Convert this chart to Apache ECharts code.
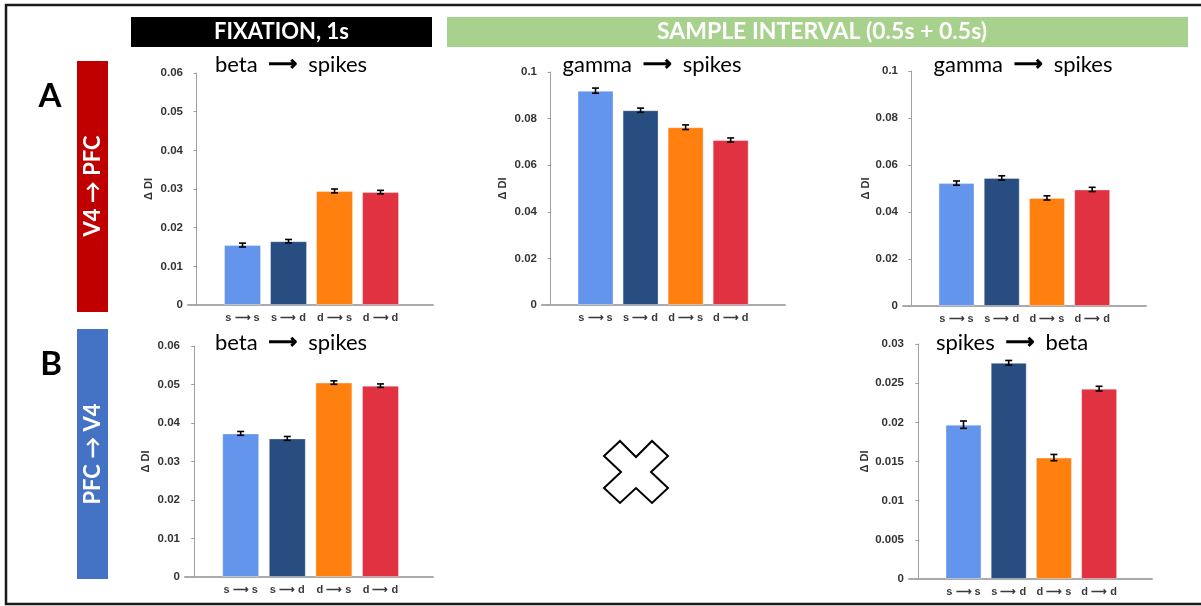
<!DOCTYPE html>
<html>
<head>
<meta charset="utf-8">
<script src="https://cdn.jsdelivr.net/npm/echarts@6/dist/echarts.min.js"></script>
<style>
  html, body { margin: 0; padding: 0; background: #fff; }
  #main { width: 1201px; height: 606px; }
</style>
</head>
<body>
<div id="main"></div>
<script>
// categories and colours of the four bars
const categories = ['s \u27F6 s', 's \u27F6 d', 'd \u27F6 s', 'd \u27F6 d'];
const barColors = ['#6495ED', '#284D80', '#FF7F0F', '#E13242'];

// A: V4 -> PFC
const fixV4PfcBeta = [0.0155, 0.0165, 0.0295, 0.0292];
const fixV4PfcBetaErr = [0.0005, 0.00045, 0.0005, 0.00045];
const sampleV4PfcGamma1 = [0.0920, 0.0836, 0.0763, 0.0708];
const sampleV4PfcGamma1Err = [0.0011, 0.0009, 0.001, 0.0009];
const sampleV4PfcGamma2 = [0.0523, 0.0545, 0.0460, 0.0496];
const sampleV4PfcGamma2Err = [0.0009, 0.0009, 0.0009, 0.0009];

// B: PFC -> V4
const fixPfcV4Beta = [0.0373, 0.0360, 0.0505, 0.0497];
const fixPfcV4BetaErr = [0.0005, 0.0005, 0.00045, 0.00045];
const samplePfcV4Beta = [0.0197, 0.0276, 0.0155, 0.0243];
const samplePfcV4BetaErr = [0.00047, 0.0003, 0.0004, 0.0003];

// panel layout (pixels) + axis ranges
const panels = [
  { grid: { left: 188, top: 73, width: 245, height: 232 }, xMin: -0.185, xMax: 5.14, barW: 37,
    yMax: 0.06, yInt: 0.01, nameGap: 34, values: fixV4PfcBeta, errors: fixV4PfcBetaErr,
    title: ['beta', 'spikes'], tx: 291, ty: 65 },
  { grid: { left: 542, top: 72, width: 243, height: 233 }, xMin: -0.188, xMax: 5.206, barW: 36,
    yMax: 0.1, yInt: 0.02, nameGap: 34, values: sampleV4PfcGamma1, errors: sampleV4PfcGamma1Err,
    title: ['gamma', 'spikes'], tx: 652, ty: 65 },
  { grid: { left: 903, top: 71, width: 243, height: 235 }, xMin: -0.183, xMax: 5.19, barW: 36,
    yMax: 0.1, yInt: 0.02, nameGap: 32, values: sampleV4PfcGamma2, errors: sampleV4PfcGamma2Err,
    title: ['gamma', 'spikes'], tx: 1023, ty: 65 },
  { grid: { left: 185, top: 346, width: 248, height: 231 }, xMin: -0.195, xMax: 5.127, barW: 37,
    yMax: 0.06, yInt: 0.01, nameGap: 34, values: fixPfcV4Beta, errors: fixPfcV4BetaErr,
    title: ['beta', 'spikes'], tx: 291, ty: 343 },
  { grid: { left: 909, top: 344, width: 243, height: 235 }, xMin: -0.206, xMax: 5.17, barW: 36,
    yMax: 0.03, yInt: 0.005, nameGap: 39, values: samplePfcV4Beta, errors: samplePfcV4BetaErr,
    title: ['spikes', 'beta'], tx: 1012, ty: 343 }
];

const chart = echarts.init(document.getElementById('main'));

const grids = [], xAxes = [], yAxes = [], series = [];
panels.forEach((p, i) => {
  grids.push(Object.assign({ outerBoundsMode: 'none', containLabel: false }, p.grid));
  xAxes.push({
    type: 'value', gridIndex: i, min: p.xMin, max: p.xMax,
    splitLine: { show: false },
    axisLine: { show: true, lineStyle: { color: '#aaaaaa', width: 2 } },
    axisTick: { show: false },
    axisLabel: {
      customValues: [1, 2, 3, 4],
      formatter: v => categories[Math.round(v) - 1] || '',
      color: '#3a3a3a', fontWeight: 'bold', fontSize: 11,
      fontFamily: 'Liberation Sans, Arial', margin: 7
    }
  });
  yAxes.push({
    type: 'value', gridIndex: i, min: 0, max: p.yMax, interval: p.yInt,
    name: '\u0394 DI', nameLocation: 'middle', nameGap: p.nameGap, nameRotate: 90,
    nameTextStyle: { color: '#333', fontWeight: 'bold', fontSize: 11, fontFamily: 'Liberation Sans, Arial' },
    splitLine: { show: false },
    axisLine: { show: true, lineStyle: { color: '#a0a0a0', width: 1 } },
    axisTick: { show: true, length: 3, lineStyle: { color: '#a0a0a0' } },
    axisLabel: { color: '#333', fontWeight: 'bold', fontSize: 11.5, fontFamily: 'Liberation Sans, Arial', margin: 5 }
  });
  series.push({
    type: 'bar', xAxisIndex: i, yAxisIndex: i, barWidth: p.barW,
    data: p.values.map((v, k) => ({ value: [k + 1, v], itemStyle: { color: barColors[k] } })),
    itemStyle: { borderColor: 'rgba(255,255,255,0.35)', borderWidth: 1 },
    silent: true, animation: false
  });
  series.push({
    type: 'custom', xAxisIndex: i, yAxisIndex: i, silent: true, animation: false, z: 5,
    data: p.values.map((v, k) => [k + 1, v, p.errors[k]]),
    renderItem: (params, api) => {
      const x = api.value(0), y = api.value(1), e = api.value(2);
      const t = api.coord([x, y + e]), b = api.coord([x, y - e]);
      const hw = 3.5, st = { stroke: '#000', lineWidth: 1.6 };
      return { type: 'group', children: [
        { type: 'line', shape: { x1: t[0], y1: t[1], x2: b[0], y2: b[1] }, style: st },
        { type: 'line', shape: { x1: t[0] - hw, y1: t[1], x2: t[0] + hw, y2: t[1] }, style: st },
        { type: 'line', shape: { x1: b[0] - hw, y1: b[1], x2: b[0] + hw, y2: b[1] }, style: st }
      ] };
    }
  });
});

const titleRich = {
  w: { fontSize: 22, fontFamily: 'Lato', fill: '#000' },
  a: { fontSize: 20, fontFamily: 'DejaVu Sans', fill: '#000', stroke: '#000', lineWidth: 1.2,
       padding: [0, 11, 0, 11] }
};

const graphic = [
  // outer frame
  { type: 'rect', shape: { x: 6, y: 5, width: 1200, height: 599 }, style: { fill: 'none', stroke: '#1a1a1a', lineWidth: 2.5 }, silent: true },
  // headers
  { type: 'rect', shape: { x: 131, y: 17, width: 301, height: 30 }, style: { fill: '#000' } },
  { type: 'text', x: 281.5, y: 32, style: { text: 'FIXATION, 1s', fill: '#fff', fontFamily: 'Lato', fontWeight: 'bold', fontSize: 22, align: 'center', verticalAlign: 'middle' } },
  { type: 'rect', shape: { x: 447, y: 17, width: 741, height: 30 }, style: { fill: '#A9D18E' } },
  { type: 'text', x: 822, y: 32, style: { text: 'SAMPLE INTERVAL (0.5s + 0.5s)', fill: '#fff', fontFamily: 'Lato', fontWeight: 'bold', fontSize: 23, align: 'center', verticalAlign: 'middle' } },
  // row labels
  { type: 'text', x: 50, y: 96, style: { text: 'A', fill: '#000', fontFamily: 'Lato', fontWeight: 'bold', fontSize: 33, align: 'center', verticalAlign: 'middle' } },
  { type: 'text', x: 51, y: 364, style: { text: 'B', fill: '#000', fontFamily: 'Lato', fontWeight: 'bold', fontSize: 33, align: 'center', verticalAlign: 'middle' } },
  { type: 'rect', shape: { x: 77, y: 61, width: 31, height: 251 }, style: { fill: '#C00000' } },
  { type: 'text', x: 93, y: 186, rotation: Math.PI / 2, style: { text: 'V4 \u2192 PFC', fill: '#fff', fontFamily: 'Lato', fontWeight: 'bold', fontSize: 22, align: 'center', verticalAlign: 'middle' } },
  { type: 'rect', shape: { x: 77, y: 329, width: 31, height: 250 }, style: { fill: '#4472C4' } },
  { type: 'text', x: 93, y: 454, rotation: Math.PI / 2, style: { text: 'PFC \u2192 V4', fill: '#fff', fontFamily: 'Lato', fontWeight: 'bold', fontSize: 22, align: 'center', verticalAlign: 'middle' } },
  // "no data" cross
  { type: 'polygon', shape: { points: [[620, 441], [636, 457], [652, 441], [668, 456], [651, 472], [668, 488], [652, 503], [636, 488], [620, 503], [604, 488], [621, 472], [604, 456]] },
    style: { fill: '#fff', stroke: '#000', lineWidth: 2 } }
];
panels.forEach(p => {
  graphic.push({ type: 'text', x: p.tx, y: p.ty, z: 10,
    style: { text: '{w|' + p.title[0] + '}{a|\u27F6}{w|' + p.title[1] + '}', rich: titleRich, align: 'center', verticalAlign: 'middle' } });
});

chart.setOption({
  animation: false,
  grid: grids,
  xAxis: xAxes,
  yAxis: yAxes,
  series: series,
  graphic: graphic
});
</script>
</body>
</html>
